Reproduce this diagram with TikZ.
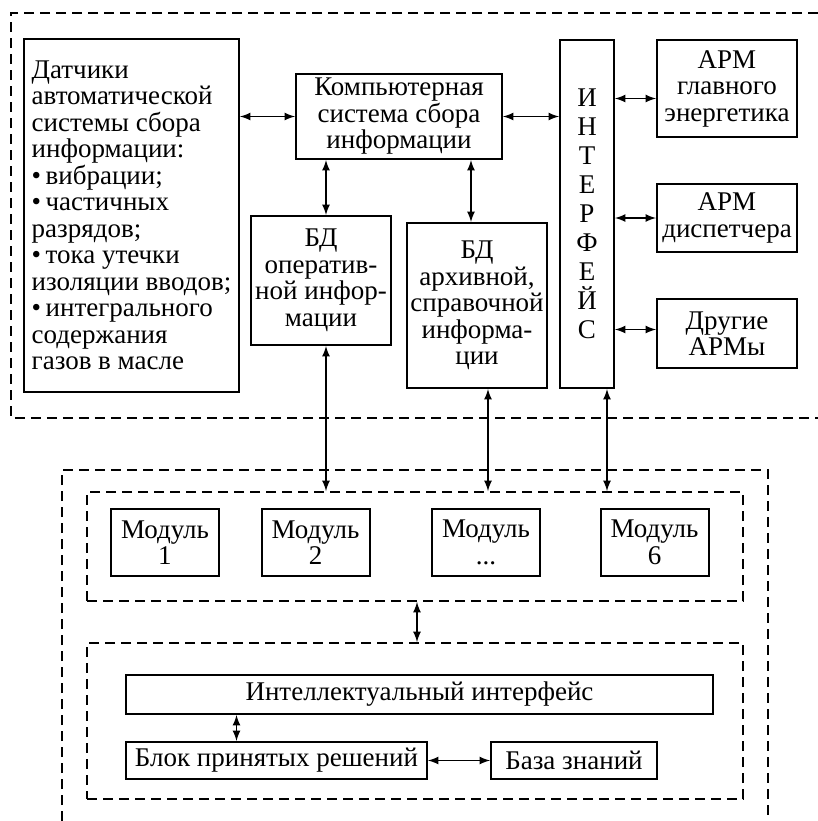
\documentclass[tikz,border=0pt]{standalone}
\usepackage{fontspec}
\setmainfont{Liberation Serif}
\usepackage{tikz}
\usetikzlibrary{shapes,arrows,positioning,fit,backgrounds}

\begin{document}
\begin{tikzpicture}[x=0.5pt,y=-0.5pt,
  box/.style={rectangle, draw, line width=1pt, align=center, inner sep=1pt,
    font=\fontsize{13.5}{13.25}\selectfont},
  frame/.style={rectangle, draw, line width=0.9pt, dash pattern=on 5pt off 3pt},
  dashline/.style={line width=0.9pt, dash pattern=on 5pt off 3pt},
  link/.style={<->, >=latex, line width=0.8pt}
]
\useasboundingbox (0,0) rectangle (818,821);

% Upper part
\draw[dashline] (818,13) -- (11,13) -- (11,418) -- (818,418);

\node[box, align=left, minimum width=107.5pt, minimum height=176.5pt] (sensor) at (131.5,215.5)
  {Датчики\\автоматической\\системы сбора\\информации:\\•\,вибрации;\\•\,частичных\\разрядов;\\•\,тока утечки\\изоляции вводов;\\•\,интегрального\\содержания\\газов в масле};
\node[box, minimum width=103pt, minimum height=42.5pt] (comp) at (399,116.5)
  {Компьютерная\\система сбора\\информации};
\node[box, minimum width=70pt, minimum height=64.5pt] (bdop) at (321,280.5)
  {БД\\оператив-\\ной инфор-\\мации};
\node[box, minimum width=70pt, minimum height=82.5pt] (bdarch) at (477,305.5)
  {БД\\архивной,\\справочной\\информа-\\ции};
\node[box, minimum width=27pt, minimum height=174pt,
  font=\fontsize{13.5}{14.5}\selectfont] (iface) at (587,214)
  {И\\Н\\Т\\Е\\Р\\Ф\\Е\\Й\\С};
\node[box, minimum width=70pt, minimum height=48.5pt] (arm1) at (727,88.5)
  {АРМ\\главного\\энергетика};
\node[box, minimum width=70pt, minimum height=34pt] (arm2) at (727,218)
  {АРМ\\диспетчера};
\node[box, minimum width=70pt, minimum height=34.5pt] (arm3) at (727,333.5)
  {Другие\\АРМы};

\draw[link] (sensor.east |- comp.west) -- (comp.west);
\draw[link] (comp.east) -- (comp.east -| iface.west);
\draw[link] ([yshift=-5pt]arm1.west) -- ([yshift=-5pt]arm1.west -| iface.east);
\draw[link] (arm2.west) -- (arm2.west -| iface.east);
\draw[link] ([yshift=2pt]arm3.west) -- ([yshift=2pt]arm3.west -| iface.east);
\draw[link] ([xshift=2.5pt]bdop.north) -- ([xshift=2.5pt]bdop.north |- comp.south);
\draw[link] ([xshift=-3pt]bdarch.north) -- ([xshift=-3pt]bdarch.north |- comp.south);

% Lower part
\draw[dashline] (62,821) -- (62,470) -- (768,470) -- (768,821);

\node[frame, minimum width=328pt, minimum height=54.5pt] (modframe) at (415,546.5) {};
\node[box, minimum width=54pt, minimum height=33.5pt] (mod1) at (165,542.5) {Модуль\\1};
\node[box, minimum width=54pt, minimum height=33.5pt] (mod2) at (315.5,542.5) {Модуль\\2};
\node[box, minimum width=54pt, minimum height=33.5pt] (modn) at (486,542.5) {Модуль\\...};
\node[box, minimum width=54pt, minimum height=33.5pt] (mod6) at (654.5,542.5) {Модуль\\6};

\node[frame, minimum width=328pt, minimum height=78pt] (lowframe) at (415,721) {};
\node[box, minimum width=293.5pt, minimum height=19.5pt] (intel) at (419.5,694.5)
  {Интеллектуальный интерфейс};
\node[box, minimum width=150.5pt, minimum height=18.5pt] (block) at (276.5,760.5)
  {Блок принятых решений};
\node[box, minimum width=83pt, minimum height=18.5pt] (base) at (574,760.5)
  {База знаний};

\draw[link] ([xshift=2.5pt]bdop.south) -- ([xshift=2.5pt]bdop.south |- modframe.north);
\draw[link] ([xshift=5.5pt]bdarch.south) -- ([xshift=5.5pt]bdarch.south |- modframe.north);
\draw[link] ([xshift=10pt]iface.south) -- ([xshift=10pt]iface.south |- modframe.north);
\draw[link] ([xshift=1pt]modframe.south) -- ([xshift=1pt]modframe.south |- lowframe.north);
\draw[link] ([xshift=-20pt]block.north) -- ([xshift=-20pt]block.north |- intel.south);
\draw[link] (block.east) -- (base.west);
\end{tikzpicture}
\end{document}
